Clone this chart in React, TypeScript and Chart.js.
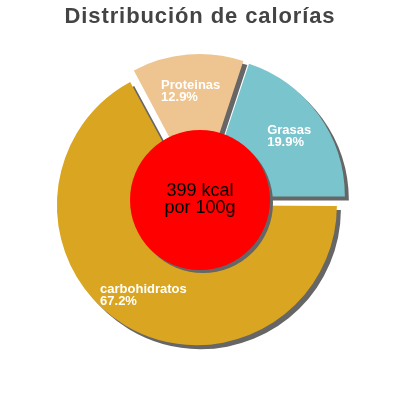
import { useEffect, useRef } from "react";
import { Chart, registerables } from "chart.js";

Chart.register(...registerables);

const TITLE = "Distribución de calorías";
const CATEGORIES = ["carbohidratos", "Proteinas", "Grasas"];
const PERCENTAGES = [67.2, 12.9, 19.9];
const COLORS = ["#DAA520", "#EEC591", "#7AC5CD"];
const CENTER_LINES = ["399 kcal", "por 100g"];

const FONT = "'Liberation Sans', Arial, sans-serif";
const EXPLODE = 6; // visual px

export default function App() {
  const ref = useRef<HTMLCanvasElement>(null);

  useEffect(() => {
    document.body.style.margin = "0";
    const canvas = ref.current;
    if (!canvas) return;

    const decor = {
      id: "decor",
      afterDatasetUpdate(chart: any) {
        // keep every exploded slice at the same visible outer radius
        const meta = chart.getDatasetMeta(0);
        meta.data.forEach((arc: any) => {
          const circ = arc.circumference;
          const fix = 1 - Math.sin(Math.min(Math.PI, circ || 0));
          arc.outerRadius = 140 - EXPLODE * fix;
        });
      },
      beforeDraw(chart: any) {
        chart.ctx.letterSpacing = "0.9px";
      },
      beforeDatasetsDraw(chart: any) {
        const ctx = chart.ctx;
        ctx.letterSpacing = "0px";
        ctx.save();
        ctx.shadowColor = "#666666";
        ctx.shadowOffsetX = 4;
        ctx.shadowOffsetY = 4;
        ctx.shadowBlur = 0;
      },
      afterDatasetsDraw(chart: any) {
        const ctx = chart.ctx;
        ctx.restore();
        const meta = chart.getDatasetMeta(0);
        const arcs = meta.data;
        if (!arcs.length) return;
        const cx = arcs[0].x;
        const cy = arcs[0].y;

        // slice labels
        ctx.save();
        ctx.fillStyle = "#ffffff";
        ctx.font = `bold 13px ${FONT}`;
        ctx.letterSpacing = "0px";
        ctx.textAlign = "left";
        ctx.textBaseline = "alphabetic";
        arcs.forEach((arc: any, i: number) => {
          const mid = (arc.startAngle + arc.endAngle) / 2;
          const r = 110;
          const ax = cx + Math.cos(mid) * r;
          const ay = cy + Math.sin(mid) * r;
          const l1 = CATEGORIES[i];
          const l2 = PERCENTAGES[i].toFixed(1) + "%";
          const w = Math.max(ctx.measureText(l1).width, ctx.measureText(l2).width);
          const x0 = ax - w / 2;
          ctx.fillText(l1, x0, ay - 1.5);
          ctx.fillText(l2, x0, ay + 10.5);
        });
        ctx.restore();

        // center disc
        ctx.save();
        ctx.shadowColor = "#666666";
        ctx.shadowOffsetX = 3;
        ctx.shadowOffsetY = 3;
        ctx.shadowBlur = 0;
        ctx.fillStyle = "#FF0000";
        ctx.beginPath();
        ctx.arc(cx, cy, 70, 0, Math.PI * 2);
        ctx.fill();
        ctx.restore();

        ctx.save();
        ctx.fillStyle = "#000000";
        ctx.font = `18px ${FONT}`;
        ctx.letterSpacing = "0px";
        ctx.textAlign = "center";
        ctx.textBaseline = "alphabetic";
        ctx.fillText(CENTER_LINES[0], cx, cy - 4);
        ctx.fillText(CENTER_LINES[1], cx, cy + 13);
        ctx.restore();
      },
    };

    const chart = new Chart(canvas, {
      type: "pie",
      data: {
        labels: CATEGORIES,
        datasets: [
          {
            data: PERCENTAGES,
            backgroundColor: COLORS,
            borderWidth: 0,
            offset: EXPLODE * 4,
            hoverOffset: EXPLODE * 4,
            radius: 140,
          },
        ],
      },
      options: {
        responsive: false,
        devicePixelRatio: 1,
        animation: false,
        rotation: 90,
        layout: { padding: { top: 0, bottom: 30.4, left: 0, right: 0 } },
        events: [],
        plugins: {
          legend: { display: false },
          tooltip: { enabled: false },
          title: {
            display: true,
            text: TITLE,
            color: "#444444",
            font: { family: FONT, size: 22, weight: "bold" },
            padding: { top: 4, bottom: 0 },
          },
        },
      },
      plugins: [decor],
    });

    return () => chart.destroy();
  }, []);

  return (
    <div style={{ position: "absolute", left: 0, top: 0, width: 400, height: 400, background: "#fff" }}>
      <canvas ref={ref} width={400} height={400} />
    </div>
  );
}
